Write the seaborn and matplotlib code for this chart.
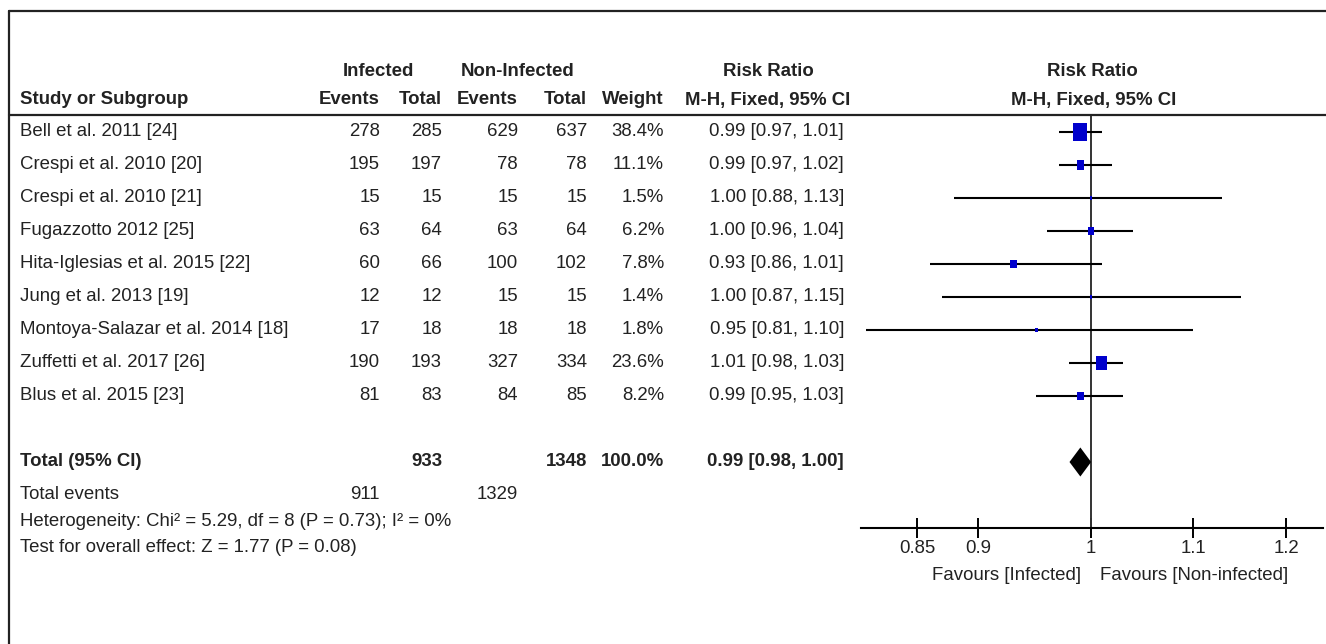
import numpy as np
import pandas as pd
import matplotlib
matplotlib.use("Agg")
import matplotlib.pyplot as plt
import seaborn as sns
from matplotlib import font_manager, transforms
from matplotlib.lines import Line2D
from matplotlib.ticker import NullLocator

# ---- study data ----
studies = [
    "Bell et al. 2011 [24]",
    "Crespi et al. 2010 [20]",
    "Crespi et al. 2010 [21]",
    "Fugazzotto 2012 [25]",
    "Hita-Iglesias et al. 2015 [22]",
    "Jung et al. 2013 [19]",
    "Montoya-Salazar et al. 2014 [18]",
    "Zuffetti et al. 2017 [26]",
    "Blus et al. 2015 [23]",
]
inf_events = [278, 195, 15, 63, 60, 12, 17, 190, 81]
inf_total = [285, 197, 15, 64, 66, 12, 18, 193, 83]
non_events = [629, 78, 15, 63, 100, 15, 18, 327, 84]
non_total = [637, 78, 15, 64, 102, 15, 18, 334, 85]
weight = [38.4, 11.1, 1.5, 6.2, 7.8, 1.4, 1.8, 23.6, 8.2]
rr = [0.99, 0.99, 1.00, 1.00, 0.93, 1.00, 0.95, 1.01, 0.99]
ci_low = [0.97, 0.97, 0.88, 0.96, 0.86, 0.87, 0.81, 0.98, 0.95]
ci_high = [1.01, 1.02, 1.13, 1.04, 1.01, 1.15, 1.10, 1.03, 1.03]

# pooled estimate
total_rr = 0.99
total_low = 0.98
total_high = 1.00
total_weight = 100.0
heterogeneity = "Heterogeneity: Chi² = 5.29, df = 8 (P = 0.73); I² = 0%"
overall_test = "Test for overall effect: Z = 1.77 (P = 0.08)"

# axis
tick_values = [0.85, 0.9, 1, 1.1, 1.2]
tick_labels = ["0.85", "0.9", "1", "1.1", "1.2"]
favours_left = "Favours [Infected]"
favours_right = "Favours [Non-infected]"

# ---- style ----
sns.set_theme(style="white")
installed = {f.name for f in font_manager.fontManager.ttflist}
if "Liberation Sans Narrow" in installed:
    family, fs = "Liberation Sans Narrow", 15.5
else:
    family, fs = "Liberation Sans", 13.4
plt.rcParams["font.family"] = [family, "DejaVu Sans"]
TXT = "#222222"

W, H = 1326, 644
fig = plt.figure(figsize=(W / 100, H / 100), dpi=100)
fig.patch.set_facecolor("white")


def fx(px):
    return px / W


def fy(py):
    return 1 - py / H


ax = fig.add_axes([fx(861), fy(528), fx(1323) - fx(861), fy(115) - fy(528)])
ax.set_facecolor("none")

rows = np.arange(len(studies))
total_row = len(studies) + 1

df = pd.DataFrame({"study": studies, "rr": rr, "row": rows, "weight": weight,
                   "lo": ci_low, "hi": ci_high})

# confidence intervals
ax.hlines(df["row"], df["lo"], df["hi"], color="black", lw=1.5, zorder=2)
# line of no effect
ax.axvline(1, color="#333333", lw=1.4, zorder=1)

# study estimates, area proportional to weight
rect = [(-0.39, -0.5), (0.39, -0.5), (0.39, 0.5), (-0.39, 0.5), (-0.39, -0.5)]
sns.scatterplot(data=df, x="rr", y="row", size="weight", sizes=(0, 165),
                size_norm=(0, max(weight)), marker=rect, color="#0000CC",
                edgecolor="none", linewidth=0, legend=False, ax=ax, zorder=3)

# pooled diamond
half_h = 0.44
ax.fill([total_low, total_rr, total_high, total_rr],
        [total_row, total_row - half_h, total_row, total_row + half_h],
        color="black", zorder=4, lw=0)

ax.set_xscale("log")
ax.set_xlim(0.8065, 1.242)
ax.set_ylim(12.0, -0.515)
ax.set_xticks(tick_values)
ax.set_xticklabels(tick_labels)
ax.xaxis.set_minor_locator(NullLocator())
ax.set_yticks([])
ax.set_xlabel("")
ax.set_ylabel("")
for side in ("top", "left", "right"):
    ax.spines[side].set_visible(False)
ax.spines["bottom"].set_color("black")
ax.spines["bottom"].set_linewidth(1.5)
ax.tick_params(axis="x", direction="inout", length=15, width=1.4, color="black",
               pad=1, labelsize=fs, labelcolor=TXT, bottom=True)

ftr = transforms.blended_transform_factory(ax.transData, fig.transFigure)
ax.text(0.9905, fy(576), favours_left, transform=ftr, ha="right", va="center",
        fontsize=fs, color=TXT, clip_on=False)
ax.text(1.0085, fy(576), favours_right, transform=ftr, ha="left", va="center",
        fontsize=fs, color=TXT, clip_on=False)

# ---- table ----
tr = transforms.blended_transform_factory(fig.transFigure, ax.transData)
col_study = fx(20)
col_ie, col_it, col_ne, col_nt, col_w, col_ci = (fx(380), fx(442), fx(518),
                                                 fx(587), fx(664), fx(844))


def put(x, y, s, ha="right", bold=False, transform=tr):
    fig.text(x, y, s, transform=transform, ha=ha, va="center", fontsize=fs,
             color=TXT, fontweight="bold" if bold else "normal")


for i, r in df.iterrows():
    y = r["row"]
    put(col_study, y, r["study"], ha="left")
    put(col_ie, y, f"{inf_events[i]}")
    put(col_it, y, f"{inf_total[i]}")
    put(col_ne, y, f"{non_events[i]}")
    put(col_nt, y, f"{non_total[i]}")
    put(col_w, y, f"{weight[i]:.1f}%")
    put(col_ci, y, f"{rr[i]:.2f} [{ci_low[i]:.2f}, {ci_high[i]:.2f}]")

put(col_study, total_row, "Total (95% CI)", ha="left", bold=True)
put(col_it, total_row, f"{sum(inf_total)}", bold=True)
put(col_nt, total_row, f"{sum(non_total)}", bold=True)
put(col_w, total_row, f"{total_weight:.1f}%", bold=True)
put(col_ci, total_row, f"{total_rr:.2f} [{total_low:.2f}, {total_high:.2f}]", bold=True)

put(col_study, total_row + 1, "Total events", ha="left")
put(col_ie, total_row + 1, f"{sum(inf_events)}")
put(col_ne, total_row + 1, f"{sum(non_events)}")
put(col_study, total_row + 1.8, heterogeneity, ha="left")
put(col_study, total_row + 2.6, overall_test, ha="left")

# headers
ft = fig.transFigure
put(fx(378), fy(71), "Infected", ha="center", bold=True, transform=ft)
put(fx(518), fy(71), "Non-Infected", ha="center", bold=True, transform=ft)
put(fx(768), fy(71), "Risk Ratio", ha="center", bold=True, transform=ft)
put(fx(1092), fy(71), "Risk Ratio", ha="center", bold=True, transform=ft)
put(col_study, fy(100), "Study or Subgroup", ha="left", bold=True, transform=ft)
put(col_ie, fy(100), "Events", bold=True, transform=ft)
put(col_it, fy(100), "Total", bold=True, transform=ft)
put(col_ne, fy(100), "Events", bold=True, transform=ft)
put(col_nt, fy(100), "Total", bold=True, transform=ft)
put(col_w, fy(100), "Weight", bold=True, transform=ft)
put(fx(768), fy(100), "M-H, Fixed, 95% CI", ha="center", bold=True, transform=ft)
put(fx(1094), fy(100), "M-H, Fixed, 95% CI", ha="center", bold=True, transform=ft)

# frame and header rule
for xs, ys in (([fx(9), 1], [fy(11), fy(11)]),
               ([fx(9), fx(9)], [fy(11), 0]),
               ([fx(9), 1], [fy(115), fy(115)])):
    fig.add_artist(Line2D(xs, ys, transform=ft, color="#222222", lw=1.6))

fig.savefig("out.png", dpi=100)
